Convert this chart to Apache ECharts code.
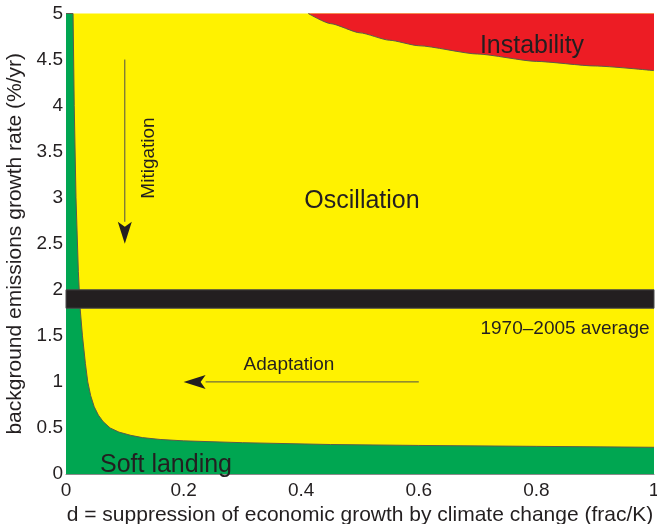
<!DOCTYPE html>
<html>
<head>
<meta charset="utf-8">
<script src="https://cdn.jsdelivr.net/npm/echarts@6/dist/echarts.min.js"></script>
<style>
  html, body { margin: 0; padding: 0; background: #ffffff; }
  #chart { width: 657px; height: 524px; }
</style>
</head>
<body>
<div id="chart"></div>
<script>
// Axis ranges and ticks
const xRange = [0, 1];
const yRange = [0, 5];
const xInterval = 0.2;
const yInterval = 0.5;

// Boundary between "Soft landing" (below/left) and "Oscillation": [d, growth rate]
const softLandingEdge = [
  [0.012, 5.0], [0.014, 4.0], [0.017, 3.0], [0.021, 2.2], [0.024, 1.8],
  [0.028, 1.5], [0.033, 1.2], [0.037, 1.0], [0.042, 0.85], [0.048, 0.73],
  [0.055, 0.64], [0.063, 0.57], [0.075, 0.50], [0.090, 0.455], [0.110, 0.42],
  [0.130, 0.395], [0.160, 0.375], [0.200, 0.36], [0.300, 0.34], [0.450, 0.32],
  [0.600, 0.31], [0.800, 0.30], [1.0, 0.29]
];

// Boundary between "Oscillation" and "Instability" (above): [d, growth rate]
const instabilityEdge = [
  [0.412, 5.0], [0.450, 4.89], [0.500, 4.79], [0.550, 4.71], [0.600, 4.65],
  [0.700, 4.56], [0.800, 4.48], [0.900, 4.43], [1.0, 4.38]
];

// 1970–2005 average emissions growth band: [low, high]
const averageBand = [1.8, 2.0];

// Arrows: [x start, y start, x end, y end]
const mitigationArrow = [0.1, 4.5, 0.1, 2.5];
const adaptationArrow = [0.6, 1.0, 0.2, 1.0];

const GREEN = '#00a651';
const YELLOW = '#fff200';
const RED = '#ed1c24';
const INK = '#231f20';
const FONT = '"Liberation Sans", Arial, Helvetica, sans-serif';

const chart = echarts.init(document.getElementById('chart'), null, { renderer: 'canvas' });

function text(str, x, y, size, rotation) {
  return {
    type: 'text',
    x: x, y: y,
    rotation: rotation || 0,
    z: 100,
    style: {
      text: str,
      fill: INK,
      font: size + 'px ' + FONT,
      align: 'center',
      verticalAlign: 'middle'
    }
  };
}

const option = {
  animation: false,
  backgroundColor: '#ffffff',
  grid: {
    left: 66, right: 3, top: 13.5, bottom: 50,
    containLabel: false,
    outerBoundsMode: 'none',
    show: true, backgroundColor: YELLOW, borderWidth: 0
  },
  xAxis: {
    type: 'value',
    min: xRange[0], max: xRange[1], interval: xInterval,
    name: 'd = suppression of economic growth by climate change (frac/K)',
    nameLocation: 'middle', nameGap: 27,
    nameTextStyle: { color: INK, fontSize: 21, fontFamily: FONT },
    axisLine: { show: true, lineStyle: { color: '#8a8a8a', width: 1 } },
    axisTick: { show: false },
    splitLine: { show: false },
    axisLabel: { color: INK, fontSize: 19, fontFamily: FONT, margin: 7, hideOverlap: false }
  },
  yAxis: {
    type: 'value',
    min: yRange[0], max: yRange[1], interval: yInterval,
    name: 'background emissions growth rate (%/yr)',
    nameLocation: 'middle', nameGap: 38,
    nameTextStyle: { color: INK, fontSize: 21, fontFamily: FONT },
    axisLine: { show: true, lineStyle: { color: '#8a8a8a', width: 1 } },
    axisTick: { show: false },
    splitLine: { show: false },
    axisLabel: { color: INK, fontSize: 19, fontFamily: FONT, margin: 3 }
  },
  series: [
    {
      // Soft landing region: everything below the edge, plus the thin strip at d ≈ 0
      type: 'line',
      data: [[xRange[0], yRange[1]]].concat(softLandingEdge),
      symbol: 'none',
      smooth: false,
      lineStyle: { color: '#5b5b4a', width: 1 },
      areaStyle: { color: GREEN, opacity: 1, origin: 'start' },
      z: 2
    },
    {
      // Instability region: everything above the edge
      type: 'line',
      data: instabilityEdge,
      symbol: 'none',
      smooth: 0.2,
      smoothMonotone: 'x',
      lineStyle: { color: '#5b5b4a', width: 1 },
      areaStyle: { color: RED, opacity: 1, origin: 'end' },
      z: 2
    },
    {
      // Historical average band across the full d range
      type: 'custom',
      data: [[xRange[0], xRange[1], averageBand[0], averageBand[1]]],
      encode: { x: [0, 1], y: [2, 3] },
      z: 5,
      renderItem: function (params, api) {
        const p0 = api.coord([api.value(0), api.value(3)]);
        const p1 = api.coord([api.value(1), api.value(2)]);
        return {
          type: 'rect',
          shape: { x: p0[0], y: p0[1], width: p1[0] - p0[0], height: p1[1] - p0[1] },
          style: { fill: INK, stroke: '#4a4a4a', lineWidth: 1 }
        };
      }
    },
    {
      // Mitigation / adaptation arrows
      type: 'custom',
      data: [mitigationArrow, adaptationArrow],
      encode: { x: [0, 2], y: [1, 3] },
      z: 6,
      renderItem: function (params, api) {
        const s = api.coord([api.value(0), api.value(1)]);
        const e = api.coord([api.value(2), api.value(3)]);
        const dx = e[0] - s[0], dy = e[1] - s[1];
        const len = Math.sqrt(dx * dx + dy * dy);
        const ux = dx / len, uy = dy / len;
        const headLen = 22, headHalf = 7;
        const bx = e[0] - ux * headLen, by = e[1] - uy * headLen;
        const nx = -uy, ny = ux;
        return {
          type: 'group',
          children: [
            {
              type: 'line',
              shape: { x1: s[0], y1: s[1], x2: bx, y2: by },
              style: { stroke: '#4d4d4d', lineWidth: 1 }
            },
            {
              type: 'polygon',
              shape: {
                points: [
                  [e[0], e[1]],
                  [bx + nx * headHalf, by + ny * headHalf],
                  [bx + ux * 5, by + uy * 5],
                  [bx - nx * headHalf, by - ny * headHalf]
                ]
              },
              style: { fill: INK }
            }
          ]
        };
      }
    }
  ],
  graphic: [
    text('Instability', 532, 46, 25),
    text('Oscillation', 362, 201, 25),
    text('Soft landing', 166, 465, 25),
    text('Mitigation', 149, 158, 19, Math.PI / 2),
    text('Adaptation', 289, 365, 19),
    text('1970\u20132005 average', 565, 329, 19)
  ]
};

chart.setOption(option);
</script>
</body>
</html>
